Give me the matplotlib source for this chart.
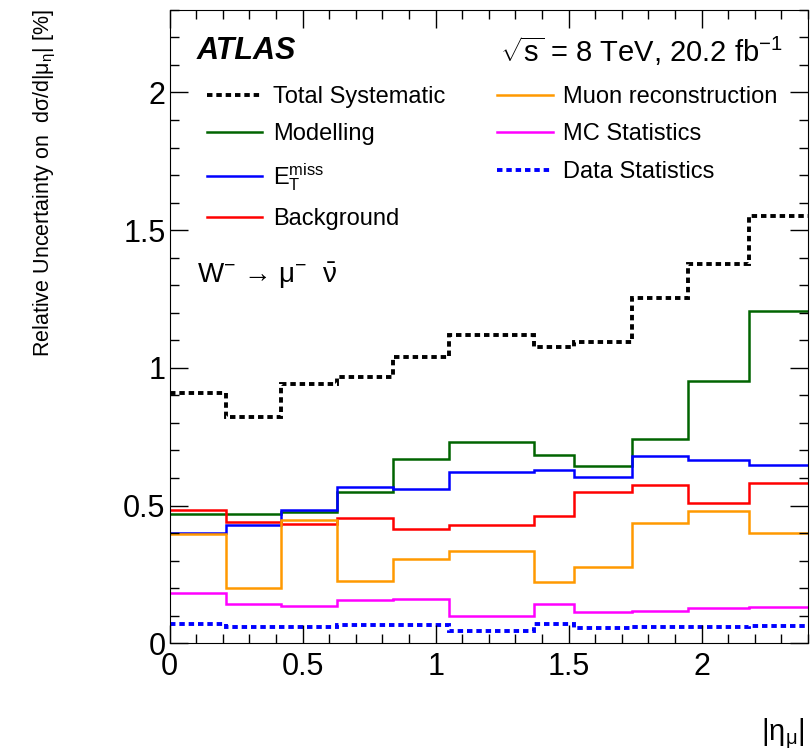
import matplotlib
matplotlib.use("Agg")
import matplotlib.pyplot as plt
from matplotlib.ticker import MultipleLocator

plt.rcParams["font.family"] = ["Liberation Sans", "DejaVu Sans"]
plt.rcParams["mathtext.fontset"] = "custom"
plt.rcParams["mathtext.rm"] = "Liberation Sans"
plt.rcParams["mathtext.it"] = "Liberation Sans:italic"

# |eta_mu| bin edges
eta_edges = [0, 0.21, 0.42, 0.63, 0.84, 1.05, 1.37, 1.52, 1.74, 1.95, 2.18, 2.4]

total_syst = [0.91, 0.82, 0.94, 0.966, 1.04, 1.12, 1.077, 1.095, 1.253, 1.377, 1.553]
modelling = [0.468, 0.468, 0.476, 0.548, 0.669, 0.731, 0.684, 0.645, 0.742, 0.954, 1.205]
met = [0.402, 0.429, 0.484, 0.568, 0.559, 0.621, 0.629, 0.604, 0.681, 0.667, 0.647]
background = [0.484, 0.439, 0.434, 0.456, 0.416, 0.429, 0.462, 0.548, 0.573, 0.509, 0.581]
muon_reco = [0.398, 0.202, 0.449, 0.225, 0.307, 0.336, 0.223, 0.276, 0.435, 0.482, 0.401]
mc_stats = [0.183, 0.143, 0.136, 0.156, 0.160, 0.099, 0.142, 0.114, 0.118, 0.127, 0.131]
data_stats = [0.070, 0.059, 0.059, 0.067, 0.067, 0.046, 0.070, 0.056, 0.059, 0.059, 0.063]

tick_vals = [0, 0.5, 1, 1.5, 2]
tick_labels = ["0", "0.5", "1", "1.5", "2"]

LEG_FS = 17
TICK_FS = 22

fig = plt.figure(figsize=(8.12, 7.55), dpi=100)
ax = fig.add_axes([0.209, 0.148, 0.786, 0.839])

dots = (0, (1.4, 1.0))
series = [
    (total_syst, "Total Systematic", "black", dots, 2.8),
    (modelling, "Modelling", "#006400", "-", 1.8),
    (met, r"E$_{\mathrm{T}}^{\mathrm{miss}}$", "#0000ff", "-", 1.8),
    (background, "Background", "#ff0000", "-", 1.8),
    (muon_reco, "Muon reconstruction", "#ff9900", "-", 1.8),
    (mc_stats, "MC Statistics", "#ff00ff", "-", 1.8),
    (data_stats, "Data Statistics", "#0000ff", dots, 2.8),
]

handles = []
for vals, label, color, ls, lw in series:
    ax.stairs(vals, eta_edges, color=color, linestyle=ls, linewidth=lw,
              baseline=None)
    handles.append(plt.Line2D([], [], color=color, linestyle=ls, linewidth=lw))

ax.set_xlim(0, 2.4)
ax.set_ylim(0, 2.3)
ax.xaxis.set_minor_locator(MultipleLocator(0.1))
ax.yaxis.set_minor_locator(MultipleLocator(0.1))
ax.set_xticks(tick_vals)
ax.set_xticklabels(tick_labels)
ax.set_yticks(tick_vals)
ax.set_yticklabels(tick_labels)
ax.tick_params(which="both", direction="in", top=True, right=True,
               labelsize=TICK_FS)
ax.tick_params(which="major", length=13, width=1)
ax.tick_params(which="minor", length=6.5, width=1)
ax.tick_params(axis="x", pad=6)
ax.tick_params(axis="y", pad=3)

ax.set_ylabel("Relative Uncertainty on  dσ/d|μ$_{\\mathrm{η}}$| [%]",
              fontsize=15.5, loc="top")
ax.yaxis.set_label_coords(-0.175, 1.0)
ax.set_xlabel("|η$_{\\mathrm{μ}}$|", fontsize=21, loc="right")
ax.xaxis.set_label_coords(0.995, -0.115)

ax.legend(handles, [s[1] for s in series], ncol=2, loc="upper left",
          bbox_to_anchor=(0.058, 0.88), frameon=False, fontsize=LEG_FS,
          borderpad=0, borderaxespad=0,
          handlelength=2.35, handletextpad=0.45, columnspacing=2.2,
          labelspacing=0.66)

ax.text(0.042, 0.935, "ATLAS", transform=ax.transAxes, fontsize=22,
        fontweight="bold", fontstyle="italic", va="center")
ax.text(0.96, 0.935, r"$\sqrt{\mathrm{s}}$ = 8 TeV, 20.2 fb$^{\mathrm{-1}}$",
        transform=ax.transAxes, fontsize=21, ha="right", va="center")
ax.text(0.042, 0.58, "W$^{-}$ → μ$^{-}$  $\\bar{\\mathrm{ν}}$",
        transform=ax.transAxes, fontsize=20, va="center")

fig.savefig("out.png", dpi=100)
